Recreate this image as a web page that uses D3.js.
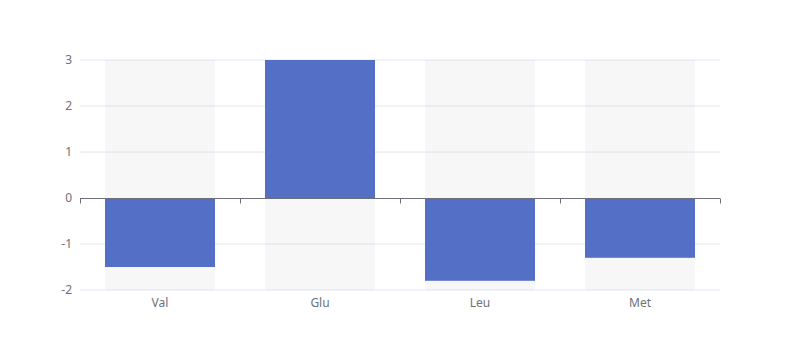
<!DOCTYPE html>
<html>
<head>
<meta charset="utf-8">
<script src="https://cdn.jsdelivr.net/npm/d3@7"></script>
<style>
  body { margin: 0; background: #fff; }
  text { font-family: "Microsoft YaHei", "Noto Sans", sans-serif; font-size: 12px; fill: #6E7079; }
</style>
</head>
<body>
<div id="chart"></div>
<script>
  var categories = ["Val", "Glu", "Leu", "Met"];
  var values = [-1.5, 3, -1.8, -1.3];
  var yTicks = [-2, -1, 0, 1, 2, 3];

  var width = 800, height = 360,
      margin = {top: 60, right: 80, bottom: 70, left: 80},
      innerW = width - margin.left - margin.right,
      innerH = height - margin.top - margin.bottom;

  var svg = d3.select("#chart").append("svg")
      .attr("width", width)
      .attr("height", height);

  var g = svg.append("g")
      .attr("transform", "translate(" + margin.left + "," + margin.top + ")");

  var x = d3.scaleBand()
      .domain(categories)
      .range([0, innerW])
      .paddingInner(0)
      .paddingOuter(0);

  var y = d3.scaleLinear()
      .domain([-2, 3])
      .range([innerH, 0]);

  var barW = x.bandwidth() * 0.6875;

  // grid lines
  g.selectAll(".grid")
      .data(yTicks.filter(d => d !== 0))
    .enter().append("line")
      .attr("x1", 0).attr("x2", innerW)
      .attr("y1", d => y(d)).attr("y2", d => y(d))
      .attr("stroke", "#E0E6F1");

  // background bars
  g.selectAll(".bg")
      .data(categories)
    .enter().append("rect")
      .attr("x", d => x(d) + (x.bandwidth() - barW) / 2)
      .attr("y", 0)
      .attr("width", barW)
      .attr("height", innerH)
      .attr("fill", "rgba(180,180,180,0.1)");

  // bars
  g.selectAll(".bar")
      .data(values)
    .enter().append("rect")
      .attr("x", (d, i) => x(categories[i]) + (x.bandwidth() - barW) / 2)
      .attr("y", d => y(Math.max(0, d)))
      .attr("width", barW)
      .attr("height", d => Math.abs(y(d) - y(0)))
      .attr("fill", "#5470C6");

  // x axis line on zero
  var y0 = Math.round(y(0)) + 0.5;
  g.append("line")
      .attr("x1", 0).attr("x2", innerW)
      .attr("y1", y0).attr("y2", y0)
      .attr("stroke", "#6E7079");

  var tickPos = categories.map(d => x(d)).concat([innerW]);
  g.selectAll(".xtick")
      .data(tickPos)
    .enter().append("line")
      .attr("x1", d => Math.round(d) + 0.5).attr("x2", d => Math.round(d) + 0.5)
      .attr("y1", y0).attr("y2", y0 + 5)
      .attr("stroke", "#6E7079");

  // x labels at bottom
  g.selectAll(".xlabel")
      .data(categories)
    .enter().append("text")
      .attr("x", d => x(d) + x.bandwidth() / 2)
      .attr("y", innerH + 8)
      .attr("dy", "0.71em")
      .attr("text-anchor", "middle")
      .text(d => d);

  // y labels
  g.selectAll(".ylabel")
      .data(yTicks)
    .enter().append("text")
      .attr("x", -8)
      .attr("y", d => y(d))
      .attr("dy", "0.35em")
      .attr("text-anchor", "end")
      .text(d => d);
</script>
</body>
</html>
